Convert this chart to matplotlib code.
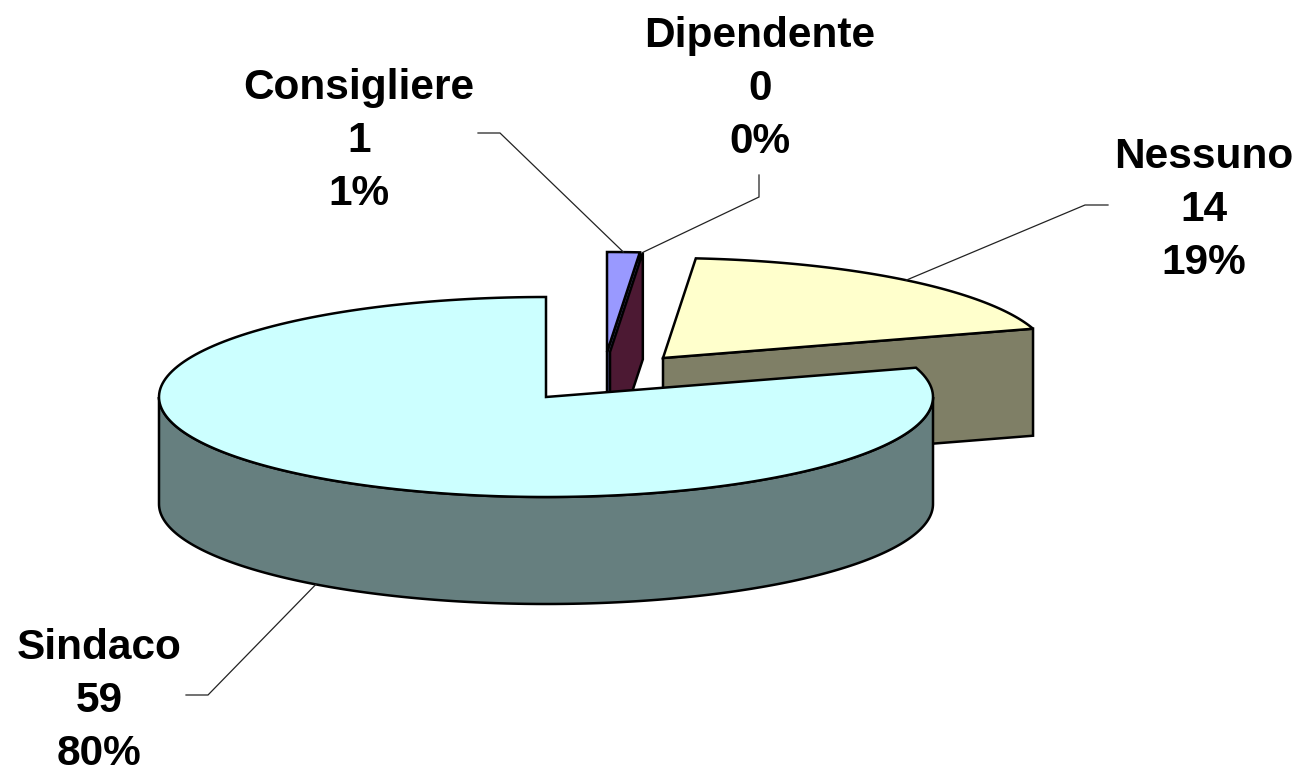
# Torta 3D esplosa con etichette e linee guida
import numpy as np
import matplotlib
matplotlib.use("Agg")
import matplotlib.pyplot as plt
from matplotlib.patches import Polygon

# %%
# Dati: in senso orario a partire dalle ore 12
names = ["Consigliere", "Dipendente", "Nessuno", "Sindaco"]
values = [1, 0, 14, 59]
top_colors = ["#9999FF", "#993366", "#FFFFCC", "#CCFFFF"]
side_colors = ["#4C4C7F", "#4C1933", "#7F7F66", "#667F7F"]

# Stile e posizioni (pixel)
cx, cy = 546, 397
rx, ry = 387, 100
depth = 107
offsets = [(61, -45), (64, -45), (117, -39), (0, 0)]
draw_order = [2, 0, 1, 3]
label_pos = [(359, 141), (760, 89), (1204, 210), (99, 701)]
elbows = [((478, 133), (500, 133)), ((759, 175), (759, 197)),
          ((1108, 205), (1085, 205)), ((186, 695), (208, 695))]

# %%
total = sum(values)
sweeps = np.array(values) / total * 360
ends = 90 - np.cumsum(sweeps)
starts = ends + sweeps

fig = plt.figure(figsize=(12.99, 7.71), dpi=100)
ax = fig.add_axes([0, 0, 1, 1])
ax.set_xlim(0, 1299)
ax.set_ylim(771, 0)
ax.axis("off")


def arc(x0, y0, a1, a2, n=200):
    t = np.radians(np.linspace(a1, a2, n))
    return np.column_stack([x0 + rx * np.cos(t), y0 - ry * np.sin(t)])


for i in draw_order:
    x0, y0 = cx + offsets[i][0], cy + offsets[i][1]
    a1, a2 = ends[i], starts[i]

    # faccia di taglio sul lato destro della fetta
    edge = arc(x0, y0, a1, a1, 1)[0]
    if a1 > 0:
        face = [(x0, y0), edge, (edge[0], edge[1] + depth), (x0, y0 + depth)]
        ax.add_patch(Polygon(face, closed=True, fc=side_colors[i], ec="black", lw=1.8, joinstyle="miter"))

    # parete esterna visibile (metà anteriore dell'ellisse)
    lo, hi = max(a1, -180), min(a2, 0)
    if hi > lo:
        rim = arc(x0, y0, lo, hi)
        wall = np.vstack([rim, (rim + [0, depth])[::-1]])
        ax.add_patch(Polygon(wall, closed=True, fc=side_colors[i], ec="black", lw=1.8))

    # superficie superiore
    if values[i] > 0:
        top = np.vstack([[(x0, y0)], arc(x0, y0, a1, a2)])
        ax.add_patch(Polygon(top, closed=True, fc=top_colors[i], ec="black", lw=1.8, joinstyle="miter"))

# %%
# Linee guida ed etichette
for i in range(len(names)):
    x0, y0 = cx + offsets[i][0], cy + offsets[i][1]
    mid = np.radians((starts[i] + ends[i]) / 2)
    ax_x = x0 + rx * np.cos(mid)
    ax_y = y0 - ry * np.sin(mid)
    if np.sin(mid) < 0:
        ax_y += depth
    (x1, y1), (x2, y2) = elbows[i]
    ax.plot([x1, x2, ax_x], [y1, y2, ax_y], color="#222222", lw=0.9, solid_joinstyle="miter")

    pct = round(values[i] / total * 100)
    ax.text(label_pos[i][0], label_pos[i][1], "%s\n%d\n%d%%" % (names[i], values[i], pct),
            family="Liberation Sans", weight="bold", fontsize=30.5, color="black",
            ha="center", va="center", linespacing=1.41)

fig.savefig("out.png", dpi=100)
